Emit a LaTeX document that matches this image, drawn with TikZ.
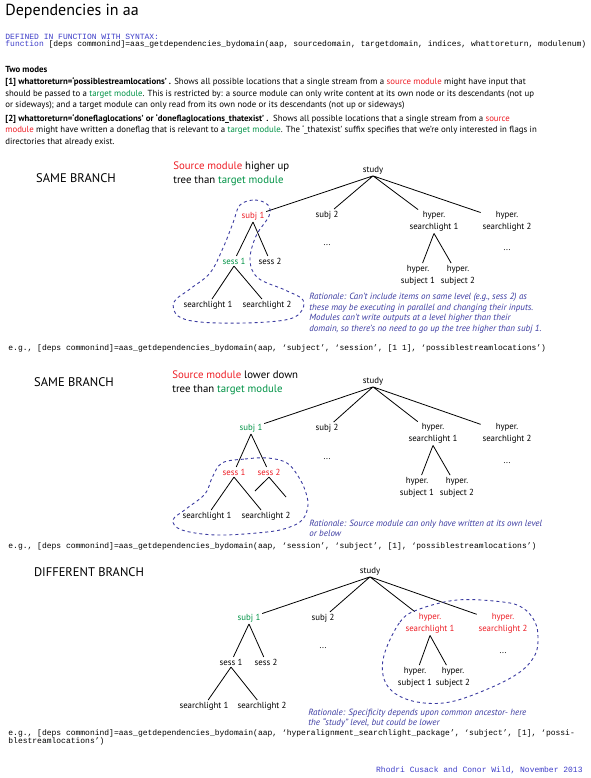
\documentclass[tikz,border=0pt]{standalone}
\usepackage{fontspec}
\setmainfont{PT Sans}
\setmonofont{Liberation Mono}
\definecolor{srcred}{RGB}{237,28,36}
\definecolor{tgtgreen}{RGB}{0,146,69}
\definecolor{hullblue}{RGB}{58,58,160}
\definecolor{codeblue}{RGB}{60,60,200}
\newcommand{\srctxt}[1]{\textcolor{srcred}{#1}}
\newcommand{\tgttxt}[1]{\textcolor{tgtgreen}{#1}}
\begin{document}
\begin{tikzpicture}[x=1pt,y=-1pt,line width=0.8pt,
  lbl/.style={font=\fontsize{8.8}{12}\selectfont,inner sep=1.5pt,align=center},
  srcnode/.style={lbl,text=srcred},
  tgtnode/.style={lbl,text=tgtgreen},
  branch/.style={font=\fontsize{12.5}{14}\selectfont,inner sep=0pt},
  caption/.style={font=\fontsize{10.8}{13.5}\selectfont,anchor=west,align=left,inner sep=0pt},
  para/.style={font=\fontsize{8.8}{11.3}\selectfont,anchor=west,align=left,inner sep=0pt},
  why/.style={font=\fontsize{9}{10.5}\selectfont\itshape,text=hullblue,anchor=west,align=left,inner sep=0pt},
  code/.style={font=\fontsize{8}{8}\selectfont\ttfamily,anchor=west,align=left,inner sep=0pt},
  hull/.style={draw=hullblue,dashed,line width=0.9pt}]
\useasboundingbox (0,0) rectangle (590,778);
\node[anchor=west,font=\fontsize{16}{18}\selectfont,inner sep=0pt] (title) at (5,11) {Dependencies in aa};
\node[code,text=codeblue] (defd) at (5,36.5) {DEFINED IN FUNCTION WITH SYNTAX:};
\node[code] (fsig) at (5,44.4) {\textcolor{codeblue}{function} [deps commonind]=aas\_getdependencies\_bydomain(aap, sourcedomain, targetdomain, indices, whattoreturn, modulenum)};
\node[anchor=west,font=\fontsize{8.8}{11}\selectfont\bfseries,inner sep=0pt] (modes) at (5,69.5) {Two modes};
\node[para] (modeA) at (5,93.7) {\textbf{[1] whattoreturn=‘possiblestreamlocations’ .} Shows all possible locations that a single stream from a \srctxt{source module} might have input that\\
should be passed to a \tgttxt{target module}. This is restricted by: a source module can only write content at its own node or its descendants (not up\\
or sideways); and a target module can only read from its own node or its descendants (not up or sideways)};
\node[para] (modeB) at (5,130.3) {\textbf{[2] whattoreturn=‘doneflaglocations’ or ‘doneflaglocations\_thatexist’ .}\ \ Shows all possible locations that a single stream from a \srctxt{source}\\
\srctxt{module} might have written a doneflag that is relevant to a \tgttxt{target module}. The ‘\_thatexist’ suffix specifies that we’re only interested in flags in\\
directories that already exist.};

\node[branch] (sb1) at (76,178) {SAME BRANCH};
\node[caption] (cap1) at (173,174) {\srctxt{Source module} higher up\\tree than \tgttxt{target module}};
\node[lbl] (study1) at (373,170) {study};
\node[srcnode] (subjA1) at (253,216) {subj 1};
\node[lbl] (subjB1) at (327,215) {subj 2};
\node[lbl] (hslA1) at (434,221.5) {hyper.\\searchlight 1};
\node[lbl] (hslB1) at (507,221.5) {hyper.\\searchlight 2};
\node[lbl] (dotsA1) at (327,245) {...};
\node[lbl] (dotsB1) at (507,250) {...};
\node[lbl] (hsubA1) at (418,275) {hyper.\\subject 1};
\node[lbl] (hsubB1) at (458,275) {hyper.\\subject 2};
\node[tgtnode] (sessA1) at (234,261) {sess 1};
\node[lbl] (sessB1) at (270,261) {sess 2};
\node[lbl] (slA1) at (208,305) {searchlight 1};
\node[lbl] (slB1) at (267,305) {searchlight 2};
\draw (study1.south) -- (subjA1) (study1.south) -- (subjB1) (study1.south) -- (hslA1) (study1.south) -- (hslB1);
\draw (subjA1.south) -- (sessA1) (subjA1.south) -- (sessB1);
\draw (sessA1.south) -- (slA1) (sessA1.south) -- (slB1);
\draw (hslA1.south) -- (hsubA1) (hslA1.south) -- (hsubB1);
\draw[hull] plot[smooth cycle,tension=0.6] coordinates {(240,205) (255,200) (268,205) (269,216) (256,236) (250,260) (258,278) (285,290) (303,300) (300,313) (285,320) (245,323) (200,322) (178,316) (174,302) (190,289) (210,273) (223,248) (233,223)};
\node[why] (why1) at (309,313) {Rationale: Can’t include items on same level (e.g., sess 2) as\\these may be executing in parallel and changing their inputs.\\Modules can’t write outputs at a level higher than their\\domain, so there’s no need to go up the tree higher than subj 1.};
\node[code] (eg1) at (8,348) {e.g., [deps commonind]=aas\_getdependencies\_bydomain(aap, ‘subject’, ‘session’, [1 1], ‘possiblestreamlocations’)};

\node[branch] (sb2) at (74,382) {SAME BRANCH};
\node[caption] (cap2) at (172,382.7) {\srctxt{Source module} lower down\\tree than \tgttxt{target module}};
\node[lbl] (study2) at (373,381) {study};
\node[tgtnode] (subjA2) at (251,428) {subj 1};
\node[lbl] (subjB2) at (327,428) {subj 2};
\node[lbl] (hslA2) at (433,433.5) {hyper.\\searchlight 1};
\node[lbl] (hslB2) at (507,433.5) {hyper.\\searchlight 2};
\node[lbl] (dotsA2) at (327,459) {...};
\node[lbl] (dotsB2) at (507,463) {...};
\node[lbl] (hsubA2) at (417,487) {hyper.\\subject 1};
\node[lbl] (hsubB2) at (457,487) {hyper.\\subject 2};
\node[srcnode] (sessA2) at (234,472) {sess 1};
\node[srcnode] (sessB2) at (269,472) {sess 2};
\node[lbl] (slA2) at (207,516) {searchlight 1};
\node[lbl] (slB2) at (266,516) {searchlight 2};
\coordinate (stubA) at (255,491);
\coordinate (stubB) at (286,497);
\draw (study2.south) -- (subjA2) (study2.south) -- (subjB2) (study2.south) -- (hslA2) (study2.south) -- (hslB2);
\draw (subjA2.south) -- (sessA2) (subjA2.south) -- (sessB2);
\draw (sessA2.south) -- (slA2) (sessA2.south) -- (slB2);
\draw (sessB2.south) -- (stubA) (sessB2.south) -- (stubB);
\draw (hslA2.south) -- (hsubA2) (hslA2.south) -- (hsubB2);
\draw[hull] plot[smooth cycle,tension=0.6] coordinates {(222,463) (245,459) (268,458) (287,463) (298,476) (305,490) (308,505) (303,519) (290,527) (267,532) (217,535) (182,530) (173,520) (186,509) (205,494) (212,478)};
\node[why] (why2) at (309,528.3) {Rationale: Source module can only have written at its own level\\or below};
\node[code] (eg2) at (8,546) {e.g., [deps commonind]=aas\_getdependencies\_bydomain(aap, ‘session’, ‘subject’, [1], ‘possiblestreamlocations’)};

\node[branch] (db3) at (89,572) {DIFFERENT BRANCH};
\node[lbl] (study3) at (370,571) {study};
\node[tgtnode] (subjA3) at (249,618) {subj 1};
\node[lbl] (subjB3) at (323,618) {subj 2};
\node[srcnode] (hslA3) at (430,623.5) {hyper.\\searchlight 1};
\node[srcnode] (hslB3) at (503,623.5) {hyper.\\searchlight 2};
\node[lbl] (dotsA3) at (323,648) {...};
\node[lbl] (dotsB3) at (503,653) {...};
\node[lbl] (hsubA3) at (415,677) {hyper.\\subject 1};
\node[lbl] (hsubB3) at (453,677) {hyper.\\subject 2};
\node[lbl] (sessA3) at (231,662) {sess 1};
\node[lbl] (sessB3) at (266,662) {sess 2};
\node[lbl] (slA3) at (204,706) {searchlight 1};
\node[lbl] (slB3) at (262,706) {searchlight 2};
\draw (study3.south) -- (subjA3) (study3.south) -- (subjB3) (study3.south) -- (hslA3) (study3.south) -- (hslB3);
\draw (subjA3.south) -- (sessA3) (subjA3.south) -- (sessB3);
\draw (sessA3.south) -- (slA3) (sessA3.south) -- (slB3);
\draw (hslA3.south) -- (hsubA3) (hslA3.south) -- (hsubB3);
\draw[hull] plot[smooth cycle,tension=0.6] coordinates {(385,652) (400,622) (417,610) (457,600) (503,602) (523,608) (535,622) (538,638) (535,655) (520,672) (490,688) (450,702) (417,702) (393,692) (383,675)};
\node[why] (why3) at (308,718) {Rationale: Specificity depends upon common ancestor- here\\the “study” level, but could be lower};
\node[code] (eg3) at (8,737) {e.g., [deps commonind]=aas\_getdependencies\_bydomain(aap, ‘hyperalignment\_searchlight\_package’, ‘subject’, [1], ‘possi-\\blestreamlocations’)};
\node[code,anchor=east,text=codeblue] (credit) at (583,770) {Rhodri Cusack and Conor Wild, November 2013};
\end{tikzpicture}
\end{document}
